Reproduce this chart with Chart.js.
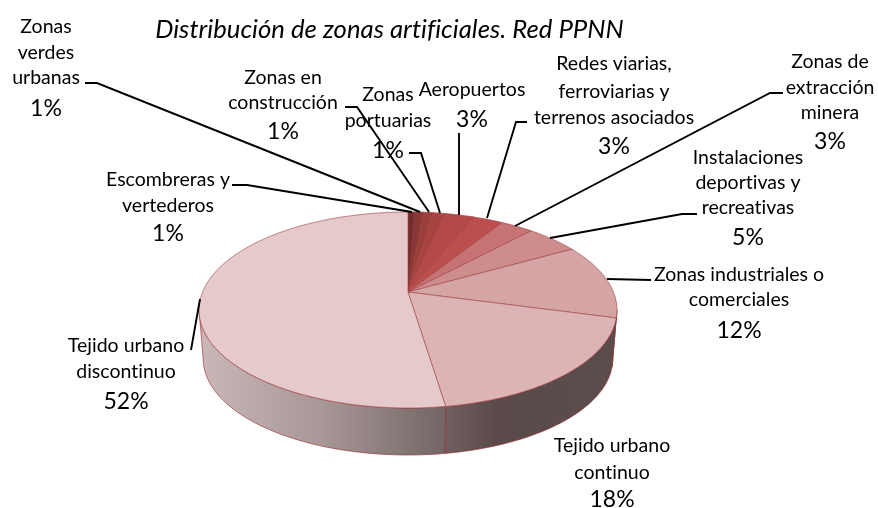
<!DOCTYPE html>
<html>
<head>
<meta charset="utf-8">
<style>html,body{margin:0;padding:0;background:#fff}canvas{display:block}</style>
<script src="https://cdn.jsdelivr.net/npm/chart.js@4/dist/chart.umd.min.js"></script>
</head>
<body>
<canvas id="c" width="878" height="508"></canvas>
<script>
const titleText = "Distribución de zonas artificiales. Red PPNN";
const categories = ["Escombreras y vertederos","Zonas verdes urbanas","Zonas en construcción","Zonas portuarias","Aeropuertos","Redes viarias, ferroviarias y terrenos asociados","Zonas de extracción minera","Instalaciones deportivas y recreativas","Zonas industriales o comerciales","Tejido urbano continuo","Tejido urbano discontinuo"];
const values = [0.6,0.8,0.9,1.2,2.7,2.7,3.0,4.9,12.4,18.4,52.4];
const sliceColors = ["#712E2C","#893735","#9A3F3C","#A74441","#B24947","#BC4F4D","#C57373","#CE8D8D","#D5A4A5","#DDB4B5","#E5C9CB"];

// label layout: wrapped lines, centre x, baselines (last = percentage)
const labelLines = [["Escombreras y","vertederos"],["Zonas","verdes","urbanas"],["Zonas en","construcción"],["Zonas","portuarias"],["Aeropuertos"],["Redes viarias,","ferroviarias y","terrenos asociados"],["Zonas de","extracción","minera"],["Instalaciones","deportivas y","recreativas"],["Zonas industriales o","comerciales"],["Tejido urbano","continuo"],["Tejido urbano","discontinuo"]];
const labelX = [168,46,283,388,472,614,830,748,739,612,126];
const labelY = [[186,212,241],[33,59,84,116],[84,109,139],[101,127,158],[96,127],[70,98,124,154],[68,94,119,149],[164,189,214,245],[281,306,338],[452,479,507],[352,378,409]];
const leaders = [[[232,185],[247,185],[412,212]],[[85,83],[97,83],[420,212]],[[345,107],[357,107],[429,212]],[[409,153],[421,153],[440,213]],[[459,133],[459,215]],[[527,122],[516,122],[487,218]],[[783,93],[770,93],[515,226]],[[697,214],[682,214],[550,238]],[[651,280],[607,279]],[],[[191,350],[200,299]]];

// perspective of the tilted disc
const view = {cx:408, cy:292, rx:205.4, ry:94.7, k:-0.1837, depth:49.3, shrink:0.98, wallFrom:100.6, wallTo:259.4};
const wallStops = {8:[[0,"#5A4A4A"],[1,"#5A4A4A"]],9:[[0,"#6F5F5F"],[0.3,"#5A4A4A"],[1,"#5C4D4D"]],10:[[0,"#CBB7B7"],[0.5,"#A89797"],[1,"#736565"]]};

function project(theta, bottom){
  const u=Math.sin(theta), v=-Math.cos(theta), w=1+view.k*v;
  const s=bottom?view.shrink:1, d=bottom?view.depth:0;
  return [view.cx+s*view.rx*u/w, view.cy+d+s*view.ry*v/w];
}
function trace(ctx,a,b,bottom,first){
  const n=Math.max(2,Math.ceil(Math.abs(b-a)/0.01));
  for(let i=0;i<=n;i++){
    const p=project(a+(b-a)*i/n,bottom);
    if(i===0&&first)ctx.moveTo(p[0],p[1]);else ctx.lineTo(p[0],p[1]);
  }
}
const disc3d = {
  id:'disc3d',
  beforeDraw(chart){ chart.ctx.letterSpacing='0.01px'; },
  beforeDatasetsDraw(chart){
    const ctx=chart.ctx, arcs=chart.getDatasetMeta(0).data;
    const lo=view.wallFrom*Math.PI/180, hi=view.wallTo*Math.PI/180;
    ctx.save();
    arcs.forEach((arc,i)=>{
      const a=Math.max(arc.startAngle+Math.PI/2,lo), b=Math.min(arc.endAngle+Math.PI/2,hi);
      if(b<=a||!wallStops[i])return;
      const xa=project(a,false)[0], xb=project(b,false)[0];
      const g=ctx.createLinearGradient(Math.min(xa,xb),0,Math.max(xa,xb),0);
      wallStops[i].forEach(s=>g.addColorStop(s[0],s[1]));
      ctx.beginPath();
      trace(ctx,a,b,false,true);
      trace(ctx,b,a,true,false);
      ctx.closePath();
      ctx.fillStyle=g; ctx.fill();
      ctx.strokeStyle="rgba(150,50,50,0.85)"; ctx.lineWidth=0.8; ctx.stroke();
    });
    arcs.forEach((arc,i)=>{
      const a=arc.startAngle+Math.PI/2, b=arc.endAngle+Math.PI/2;
      ctx.beginPath();
      ctx.moveTo(view.cx,view.cy);
      trace(ctx,a,b,false,false);
      ctx.closePath();
      ctx.fillStyle=arc.options.backgroundColor; ctx.fill();
      ctx.strokeStyle=i<5?arc.options.backgroundColor:"rgba(160,70,70,0.8)"; ctx.lineWidth=0.8; ctx.stroke();
    });
    // leaders and labels
    ctx.strokeStyle="#000"; ctx.lineWidth=1.9; ctx.lineJoin="miter";
    leaders.forEach(l=>{ if(!l.length)return; ctx.beginPath(); l.forEach((p,j)=>j?ctx.lineTo(p[0],p[1]):ctx.moveTo(p[0],p[1])); ctx.stroke(); });
    ctx.fillStyle="#000"; ctx.textAlign="center"; ctx.textBaseline="alphabetic";
    labelLines.forEach((lines,i)=>{
      ctx.font="19.5px Lato";
      lines.forEach((t,j)=>ctx.fillText(t,labelX[i],labelY[i][j]));
      ctx.font="23px Lato";
      ctx.fillText(Math.round(values[i])+"%",labelX[i],labelY[i][lines.length]);
    });
    ctx.restore();
    return false;
  }
};
new Chart(document.getElementById('c'),{
  type:'pie',
  data:{labels:categories,datasets:[{data:values,backgroundColor:sliceColors}]},
  options:{
    responsive:false,animation:false,
    layout:{padding:{right:99}},
    plugins:{
      legend:{display:false},tooltip:{enabled:false},
      title:{display:true,text:titleText,color:"#000",font:{family:"Lato",size:25.7,style:"italic",weight:"normal"},padding:{top:14,bottom:4}}
    }
  },
  plugins:[disc3d]
});
</script>
</body>
</html>
